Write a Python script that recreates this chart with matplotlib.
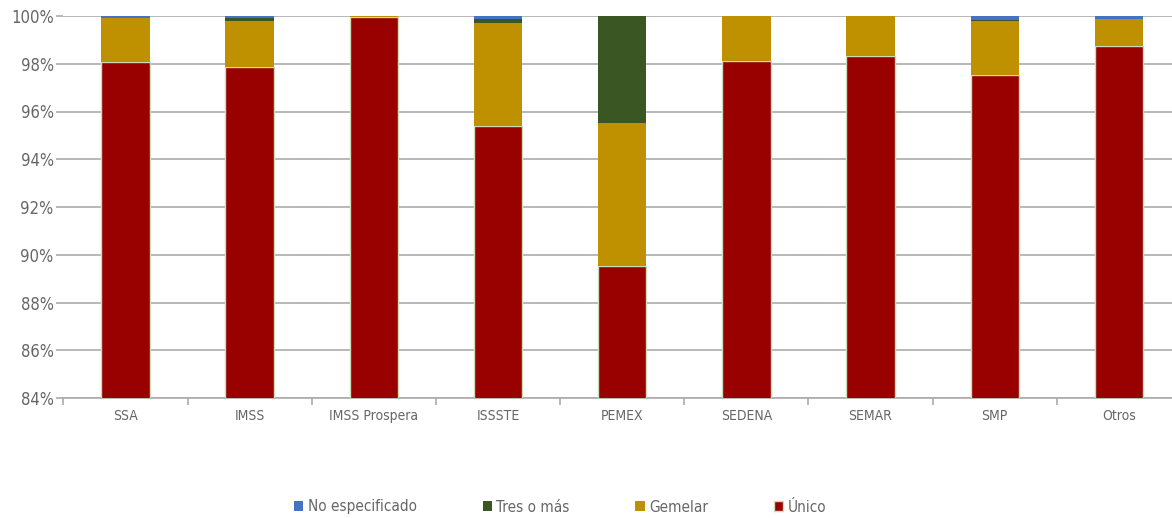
import matplotlib
matplotlib.use("Agg")
import matplotlib.pyplot as plt
import numpy as np
from matplotlib.ticker import FixedLocator, PercentFormatter

plt.rcParams['font.family'] = ['DejaVu Sans']
plt.rcParams['font.stretch'] = 'condensed'

categories = ["SSA", "IMSS", "IMSS Prospera", "ISSSTE", "PEMEX", "SEDENA", "SEMAR", "SMP", "Otros"]
unico = [98.08, 97.88, 99.96, 95.39, 89.54, 98.12, 98.31, 97.54, 98.76]
gemelar = [1.85, 1.92, 0.04, 4.33, 5.99, 1.88, 1.69, 2.25, 1.11]
tres_o_mas = [0.00, 0.10, 0.00, 0.17, 4.47, 0.00, 0.00, 0.04, 0.00]
no_especificado = [0.07, 0.10, 0.00, 0.11, 0.00, 0.00, 0.00, 0.17, 0.13]
y_ticks = [84, 86, 88, 90, 92, 94, 96, 98, 100]

col_unico = "#990000"
col_gem = "#BF9000"
col_tres = "#3A5723"
col_ne = "#4472C4"
edge = "#C9DDB8"

fig = plt.figure(figsize=(11.72, 5.18), dpi=100)
ax = fig.add_axes([63.4/1172, 1-398/518, (1181-63.4)/1172, (398-16)/518])

x = np.arange(len(categories))
w = 0.39
u = np.array(unico); g = np.array(gemelar); t = np.array(tres_o_mas); n = np.array(no_especificado)
b_u = ax.bar(x, u, w, color=col_unico, edgecolor=edge, linewidth=1.0, label="Único", zorder=3)
b_g = ax.bar(x, g, w, bottom=u, color=col_gem, edgecolor="none", linewidth=0, label="Gemelar", zorder=3)
b_t = ax.bar(x, t, w, bottom=u+g, color=col_tres, edgecolor="none", linewidth=0, label="Tres o más", zorder=3)
b_n = ax.bar(x, n, w, bottom=u+g+t, color=col_ne, edgecolor="none", linewidth=0, label="No especificado", zorder=3)

ax.set_ylim(84, 100)
ax.set_xlim(-0.5, len(categories)-0.5)
ax.set_yticks(y_ticks)
ax.yaxis.set_major_formatter(PercentFormatter(decimals=0))
ax.grid(axis='y', color="#ABABAB", linewidth=1.2, zorder=0)
ax.set_axisbelow(True)

for s in ['top', 'right', 'left']:
    ax.spines[s].set_visible(False)
ax.spines['bottom'].set_color("#ABABAB")
ax.spines['bottom'].set_linewidth(1.2)

ax.set_xticks(x)
ax.set_xticklabels(categories)
ax.xaxis.set_minor_locator(FixedLocator(np.arange(-0.5, len(categories), 1.0)))
ax.tick_params(axis='x', which='major', length=0, pad=8, labelsize=10, labelcolor="#666666")
ax.tick_params(axis='x', which='minor', length=5, color="#ABABAB", width=1.2)
ax.tick_params(axis='y', length=5, color="#ABABAB", width=1.2, labelsize=12, labelcolor="#666666", pad=2)

handles = [b_n, b_t, b_g, b_u]
labels = ["No especificado", "Tres o más", "Gemelar", "Único"]
leg = fig.legend(handles, labels, loc='center', bbox_to_anchor=(0.478, 1-507/518), ncol=4,
                 frameon=False, fontsize=11, handlelength=0.6, handleheight=0.6,
                 handletextpad=0.3, columnspacing=4.3)
for txt in leg.get_texts():
    txt.set_color("#666666")

fig.savefig("out.png", dpi=100)
